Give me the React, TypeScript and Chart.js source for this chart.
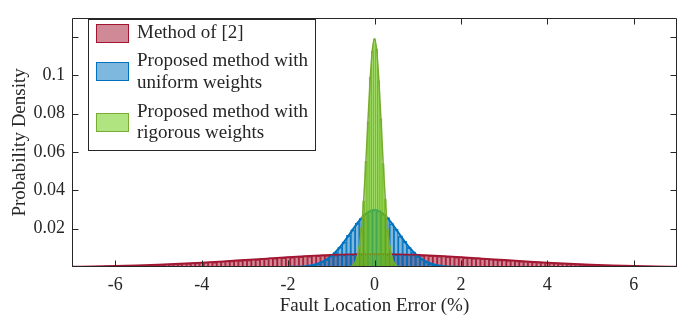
import React, { useEffect, useRef } from 'react';
import { Chart, registerables } from 'chart.js';

Chart.register(...registerables);

// ---- Data ----
// Histogram bins: centres start at *_START and advance by *_STEP
const RED_START = -7.0;
const RED_STEP = 0.1;
const redDensity = [
  0.00027, 0.00028, 0.00034, 0.00033, 0.00040, 0.00039, 0.00047, 0.00048, 0.00055, 0.00056,
  0.00065, 0.00066, 0.00076, 0.00077, 0.00088, 0.00090, 0.00103, 0.00104, 0.00117, 0.00118,
  0.00134, 0.00136, 0.00153, 0.00155, 0.00172, 0.00174, 0.00195, 0.00196, 0.00218, 0.00219,
  0.00243, 0.00244, 0.00270, 0.00268, 0.00297, 0.00296, 0.00325, 0.00324, 0.00356, 0.00352,
  0.00386, 0.00382, 0.00417, 0.00411, 0.00448, 0.00440, 0.00478, 0.00470, 0.00507, 0.00498,
  0.00536, 0.00526, 0.00563, 0.00551, 0.00588, 0.00575, 0.00611, 0.00596, 0.00632, 0.00616,
  0.00650, 0.00633, 0.00665, 0.00647, 0.00676, 0.00659, 0.00685, 0.00667, 0.00690, 0.00671,
  0.00688,
  0.00672, 0.00689, 0.00665, 0.00684, 0.00660, 0.00674, 0.00649, 0.00662, 0.00635, 0.00646,
  0.00619, 0.00628, 0.00598, 0.00607, 0.00577, 0.00584, 0.00553, 0.00558, 0.00527, 0.00530,
  0.00500, 0.00502, 0.00471, 0.00472, 0.00443, 0.00442, 0.00413, 0.00411, 0.00384, 0.00381,
  0.00354, 0.00351, 0.00325, 0.00321, 0.00297, 0.00292, 0.00270, 0.00265, 0.00243, 0.00239,
  0.00219, 0.00214, 0.00196, 0.00191, 0.00175, 0.00169, 0.00154, 0.00150, 0.00136, 0.00132,
  0.00119, 0.00115, 0.00104, 0.00100, 0.00090, 0.00086, 0.00077, 0.00074, 0.00066, 0.00064,
  0.00057, 0.00054, 0.00048, 0.00046, 0.00040, 0.00038, 0.00034, 0.00032, 0.00028, 0.00026,
];

const BLUE_START = -2.0;
const BLUE_STEP = 0.1;
const blueDensity = [
  0.00004, 0.00009, 0.00015, 0.00027, 0.00045, 0.00075, 0.00120, 0.00188, 0.00282, 0.00395,
  0.00580, 0.00770, 0.01045, 0.01308, 0.01652, 0.01950, 0.02295, 0.02540, 0.02795, 0.02905,
  0.02985,
  0.02930, 0.02765, 0.02575, 0.02265, 0.01980, 0.01625, 0.01335, 0.01020, 0.00790, 0.00560,
  0.00410, 0.00268, 0.00186, 0.00112, 0.00074, 0.00041, 0.00026, 0.00013, 0.00008, 0.00004,
];

const GREEN_START = -0.6;
const GREEN_STEP = 0.05;
const greenDensity = [
  0.00010, 0.00035, 0.00095, 0.00220, 0.00540, 0.01060, 0.02090, 0.03450, 0.05510, 0.07580,
  0.09890, 0.11250, 0.11920, 0.11380, 0.09720, 0.07740, 0.05390, 0.03560, 0.02010, 0.01110,
  0.00510, 0.00235, 0.00086, 0.00030, 0.00010,
];

// Fitted density curves
const RED_FIT_START = -7.0;
const RED_FIT_STEP = 0.5;
const redFit = [
  0.00026, 0.00041, 0.00063, 0.00092, 0.00130, 0.00178, 0.00236, 0.00302, 0.00375, 0.00450,
  0.00522, 0.00586, 0.00636, 0.00669, 0.00680, 0.00669, 0.00636, 0.00586, 0.00522, 0.00450,
  0.00375, 0.00302, 0.00236, 0.00178, 0.00130, 0.00092, 0.00063, 0.00041, 0.00026,
];

const BLUE_FIT_START = -2.0;
const BLUE_FIT_STEP = 0.2;
const blueFit = [
  0.00004, 0.00014, 0.00043, 0.00116, 0.00275, 0.00569, 0.01031, 0.01638, 0.02280, 0.02780,
  0.02970, 0.02780, 0.02280, 0.01638, 0.01031, 0.00569, 0.00275, 0.00116, 0.00043, 0.00014,
  0.00004,
];

const GREEN_FIT_START = -0.6;
const GREEN_FIT_STEP = 0.05;
const greenFit = [
  0.00011, 0.00032, 0.00090, 0.00228, 0.00523, 0.01088, 0.02052, 0.03511, 0.05448, 0.07668,
  0.09789, 0.11333, 0.11900, 0.11333, 0.09789, 0.07668, 0.05448, 0.03511, 0.02052, 0.01088,
  0.00523, 0.00228, 0.00090, 0.00032, 0.00011,
];

const xTicks = [-6, -4, -2, 0, 2, 4, 6];
const xTickLabels = ['-6', '-4', '-2', '0', '2', '4', '6'];
const yTicks = [0.02, 0.04, 0.06, 0.08, 0.1, 0.12];
const yTickLabels = ['0.02', '0.04', '0.06', '0.08', '0.1', ''];

const xTitle = 'Fault Location Error (%)';
const yTitle = 'Probability Density';
const legendLabels = [
  ['Method of [2]'],
  ['Proposed method with', 'uniform weights'],
  ['Proposed method with', 'rigorous weights'],
];

// ---- Styles ----
const FONT = "'Liberation Serif', 'Times New Roman', serif";
const TEXT = '#262626';
const RED_EDGE = 'rgb(162,20,47)';
const RED_FACE = 'rgba(162,20,47,0.5)';
const RED_BORDER = 'rgba(162,20,47,0.9)';
const BLUE_EDGE = 'rgb(0,114,189)';
const BLUE_FACE = 'rgba(0,114,189,0.5)';
const BLUE_BORDER = 'rgba(0,114,189,0.9)';
const GREEN_EDGE = 'rgb(119,172,48)';
const GREEN_FACE = 'rgba(97,201,1,0.5)';
const GREEN_BORDER = 'rgba(119,172,48,0.85)';

const toPoints = (start: number, step: number, vals: number[]) =>
  vals.map((y, i) => ({ x: Math.round((start + i * step) * 1000) / 1000, y }));

const framePlugin = {
  id: 'frame',
  afterDraw(chart: any) {
    const { ctx, chartArea: a, scales } = chart;
    ctx.save();
    ctx.strokeStyle = TEXT;
    ctx.lineWidth = 1;
    const L = Math.round(a.left) + 0.5;
    const R = Math.round(a.right) - 0.5;
    const T = Math.round(a.top) + 0.5;
    const B = Math.round(a.bottom) - 0.5;
    ctx.beginPath();
    ctx.rect(L, T, R - L, B - T);
    const tl = 6;
    xTicks.forEach((v) => {
      const px = Math.round(scales.x.getPixelForValue(v)) + 0.5;
      ctx.moveTo(px, B);
      ctx.lineTo(px, B - tl);
      ctx.moveTo(px, T);
      ctx.lineTo(px, T + tl);
    });
    yTicks.forEach((v) => {
      const py = Math.round(scales.y.getPixelForValue(v)) + 0.5;
      ctx.moveTo(L, py);
      ctx.lineTo(L + tl, py);
      ctx.moveTo(R, py);
      ctx.lineTo(R - tl, py);
    });
    ctx.stroke();

    // legend
    const bx = 88.5, by = 19.5, bw = 227, bh = 131;
    ctx.fillStyle = '#ffffff';
    ctx.fillRect(bx, by, bw, bh);
    ctx.strokeStyle = TEXT;
    ctx.strokeRect(bx, by, bw, bh);
    const faces = [RED_FACE, BLUE_FACE, GREEN_FACE];
    const edges = [RED_EDGE, BLUE_EDGE, GREEN_EDGE];
    const swatchTop = [24, 62, 113];
    const textY = [[33.5], [61.5, 83], [112, 133.5]];
    legendLabels.forEach((lines, i) => {
      ctx.fillStyle = faces[i];
      ctx.fillRect(96, swatchTop[i], 33, 19);
      ctx.strokeStyle = edges[i];
      ctx.strokeRect(96.5, swatchTop[i] + 0.5, 32, 18);
      ctx.fillStyle = TEXT;
      ctx.font = `19px ${FONT}`;
      ctx.textBaseline = 'middle';
      ctx.textAlign = 'left';
      lines.forEach((t, j) => ctx.fillText(t, 137, textY[i][j]));
    });
    ctx.restore();
  },
};

export default function App() {
  const ref = useRef<HTMLCanvasElement | null>(null);

  useEffect(() => {
    if (!ref.current) return;
    const barCommon = {
      type: 'bar' as const,
      barThickness: 'flex' as const,
      barPercentage: 1,
      categoryPercentage: 1,
      stack: 'hist',
      borderSkipped: false,
    };
    const lineCommon = {
      type: 'line' as const,
      pointRadius: 0,
      fill: false,
      cubicInterpolationMode: 'monotone' as const,
    };
    const sideBorder = { top: 1.2, left: 0.6, right: 0.6, bottom: 0 };
    const chart = new Chart(ref.current, {
      type: 'bar',
      data: {
        datasets: [
          {
            ...barCommon,
            label: legendLabels[0].join(' '),
            data: toPoints(RED_START, RED_STEP, redDensity),
            backgroundColor: RED_FACE,
            borderColor: RED_BORDER,
            borderWidth: sideBorder,
            order: 6,
          } as any,
          {
            ...barCommon,
            label: legendLabels[1].join(' '),
            data: toPoints(BLUE_START, BLUE_STEP, blueDensity),
            backgroundColor: BLUE_FACE,
            borderColor: BLUE_BORDER,
            borderWidth: sideBorder,
            order: 5,
          } as any,
          {
            ...lineCommon,
            label: 'blue fit',
            data: toPoints(BLUE_FIT_START, BLUE_FIT_STEP, blueFit),
            borderColor: BLUE_EDGE,
            borderWidth: 2,
            order: 4,
          } as any,
          {
            ...lineCommon,
            label: 'red fit',
            data: toPoints(RED_FIT_START, RED_FIT_STEP, redFit),
            borderColor: RED_EDGE,
            borderWidth: 1.5,
            order: 3,
          } as any,
          {
            ...barCommon,
            label: legendLabels[2].join(' '),
            data: toPoints(GREEN_START, GREEN_STEP, greenDensity),
            backgroundColor: GREEN_FACE,
            borderColor: GREEN_BORDER,
            borderWidth: { top: 1, left: 0.4, right: 0.4, bottom: 0 },
            order: 2,
          } as any,
          {
            ...lineCommon,
            label: 'green fit',
            data: toPoints(GREEN_FIT_START, GREEN_FIT_STEP, greenFit),
            borderColor: GREEN_EDGE,
            borderWidth: 1.5,
            order: 1,
          } as any,
        ],
      },
      options: {
        animation: false,
        responsive: false,
        layout: { padding: { top: 5, right: 17, bottom: 0, left: 0 } },
        plugins: { legend: { display: false }, tooltip: { enabled: false } },
        scales: {
          x: {
            type: 'linear',
            min: -7,
            max: 7,
            offset: false,
            grid: { display: false, drawTicks: false },
            border: { display: false },
            ticks: {
              color: TEXT,
              font: { family: FONT, size: 18 },
              padding: 7,
              maxRotation: 0,
              autoSkip: false,
              callback: (_v: any, i: number) => xTickLabels[i],
            },
            title: {
              display: true,
              text: xTitle,
              color: TEXT,
              font: { family: FONT, size: 19 },
              padding: { top: 0, bottom: 7 },
            },
            afterBuildTicks: (s: any) => {
              s.ticks = xTicks.map((v) => ({ value: v }));
            },
            afterFit: (s: any) => {
              s.height = 57;
            },
          },
          y: {
            type: 'linear',
            min: 0,
            max: 0.13,
            stacked: false,
            grid: { display: false, drawTicks: false },
            border: { display: false },
            ticks: {
              color: TEXT,
              font: { family: FONT, size: 18 },
              padding: 7,
              autoSkip: false,
              callback: (_v: any, i: number) => yTickLabels[i],
            },
            title: {
              display: true,
              text: yTitle,
              color: TEXT,
              font: { family: FONT, size: 19 },
              padding: { top: 8.6, bottom: 0 },
            },
            afterBuildTicks: (s: any) => {
              s.ticks = yTicks.map((v) => ({ value: v }));
            },
            afterFit: (s: any) => {
              s.width = 72;
            },
          },
        },
      } as any,
      plugins: [framePlugin],
    });
    return () => chart.destroy();
  }, []);

  return (
    <div style={{ position: 'fixed', left: 0, top: 0, width: 694, height: 324, background: '#fff' }}>
      <canvas ref={ref} width={694} height={324} style={{ display: 'block' }} />
    </div>
  );
}
